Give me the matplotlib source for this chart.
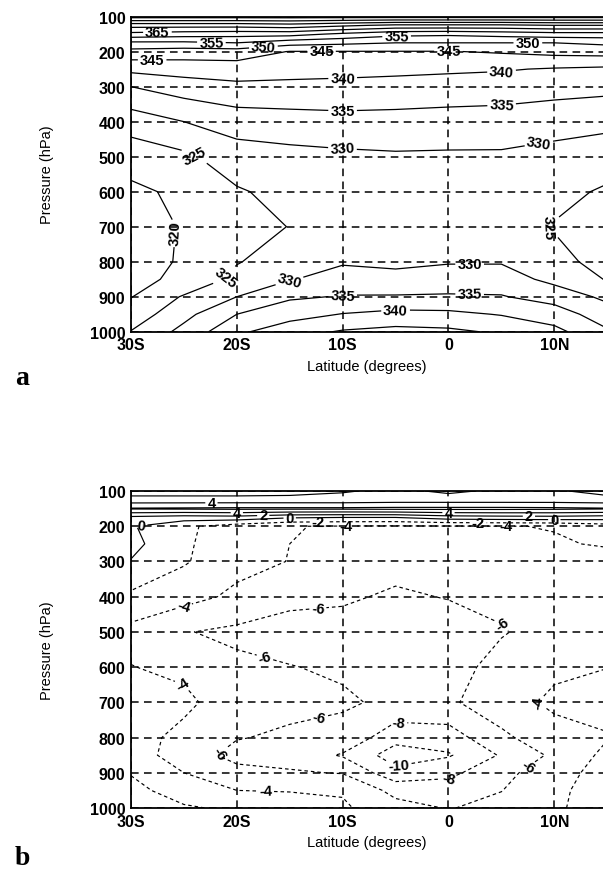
import numpy as np
import matplotlib
matplotlib.use("Agg")
import matplotlib.pyplot as plt

plt.rcParams['font.family'] = ['Liberation Sans', 'DejaVu Sans']

# grid of the analysis (latitude in degrees, negative = south; pressure in hPa)
lats = [-30, -25, -20, -15, -10, -5, 0, 5, 10, 15]
levels_hpa = [100, 125, 150, 175, 200, 250, 300, 400, 500, 600, 700, 800, 850, 900, 950, 1000]

xticks = [-30, -20, -10, 0, 10]
xticklabels = ['30S', '20S', '10S', '0', '10N']
yticks = [100, 200, 300, 400, 500, 600, 700, 800, 900, 1000]

# panel a: one column per latitude, top (100 hPa) to bottom (1000 hPa)
theta_a = {
    -30: [387, 372, 363.5, 354, 348.3, 341.3, 335.0, 327.3, 322.1, 319.0, 318.3, 318.5, 319.0, 319.8, 322.0, 325.2],
    -25: [387, 372, 362.5, 354, 347.5, 342.2, 337.5, 330.0, 324.0, 321.0, 320.3, 320.4, 320.8, 325.5, 328.5, 331.5],
    -20: [387, 372, 362.0, 355, 347.7, 342.5, 338.9, 332.3, 327.7, 324.5, 323.5, 324.7, 326.4, 330.0, 335.0, 339.0],
    -15: [387, 373, 362.0, 352, 344.8, 341.8, 338.8, 332.9, 328.5, 326.5, 325.1, 327.5, 329.7, 334.3, 338.0, 343.0],
    -10: [387, 371, 359.0, 351, 344.8, 341.5, 338.6, 333.4, 329.0, 328.3, 327.8, 329.5, 332.0, 335.3, 340.2, 345.5],
    -5:  [387, 369, 356.5, 350, 344.8, 341.2, 338.2, 333.3, 329.4, 328.5, 328.2, 329.0, 331.4, 335.4, 341.5, 346.5],
    0:   [387, 369, 356.0, 350, 344.8, 340.8, 337.8, 333.0, 329.3, 328.3, 327.8, 329.6, 332.5, 335.5, 341.2, 346.0],
    5:   [387, 369, 357.0, 350, 345.5, 340.4, 337.5, 332.8, 329.3, 328.0, 327.5, 329.6, 332.5, 335.3, 339.7, 344.3],
    10:  [387, 370, 358.0, 350, 346.5, 339.6, 336.8, 332.1, 328.3, 326.5, 324.7, 326.3, 328.5, 333.1, 337.3, 341.5],
    15:  [387, 370, 358.0, 351, 347.0, 339.0, 336.4, 331.2, 327.5, 324.3, 322.5, 323.5, 324.7, 328.8, 332.5, 335.6],
}
levels_a = list(range(320, 390, 5))

# panel b
diff_b = {
    -30: [1.0, 2.8, 6.2, 1.5, 0.2, 0.6, -0.1, -2.4, -4.6, -3.95, -3.4, -3.3, -3.0, -2.1, -1.5, -1.2],
    -25: [1.0, 2.8, 6.3, 1.0, -1.6, -1.7, -1.8, -3.3, -5.9, -4.4, -3.6, -4.5, -5.0, -4.0, -2.8, -1.8],
    -20: [1.0, 2.8, 6.4, 1.2, -3.0, -3.2, -3.4, -4.4, -6.4, -5.6, -5.0, -5.9, -6.6, -5.4, -4.0, -2.3],
    -15: [1.2, 2.8, 6.4, 0.2, -3.95, -4.0, -4.05, -5.6, -6.6, -5.95, -5.5, -6.3, -6.8, -5.8, -4.1, -3.0],
    -10: [1.8, 2.8, 6.4, 0.0, -4.1, -4.6, -5.0, -5.7, -6.8, -6.2, -5.8, -6.5, -8.2, -6.1, -4.2, -3.7],
    -5:  [2.5, 3.0, 6.5, 0.0, -4.2, -4.9, -5.3, -6.3, -7.0, -6.8, -6.3, -9.3, -11.0, -9.4, -6.6, -5.3],
    0:   [1.6, 3.0, 6.5, 1.0, -4.1, -5.0, -5.4, -5.9, -7.0, -6.8, -6.3, -9.0, -10.2, -8.5, -7.0, -6.1],
    5:   [2.4, 3.0, 6.5, 1.2, -4.05, -4.6, -5.0, -5.5, -6.15, -5.3, -4.9, -6.4, -7.8, -6.6, -6.05, -5.4],
    10:  [2.3, 3.0, 6.4, 1.3, -3.95, -4.1, -4.6, -5.0, -5.2, -4.4, -3.6, -4.8, -5.6, -4.8, -4.4, -4.3],
    15:  [1.2, 2.8, 6.2, 1.0, -3.0, -3.9, -4.4, -4.7, -4.5, -4.02, -3.5, -4.1, -3.5, -3.2, -3.1, -3.0],
}
levels_b = [-10, -8, -6, -4, -2, 0, 2, 4, 6]

# where the contour labels sit (lat, hPa)
label_pos_a = [(-27.5, 145), (-22.4, 172), (-4.9, 158), (-17.5, 182), (7.5, 176),
               (-28, 218), (-12, 197), (0, 198), (-10, 272), (5, 252),
               (-10, 365), (5, 346), (-10, 470), (8.5, 455), (-15, 857), (2, 810),
               (-10, 895), (2, 891), (-5, 937), (-24, 500), (-21, 845), (8.8, 702),
               (-25, 720)]
label_pos_b = [(-22.4, 135), (-20, 161), (0, 161), (-17.5, 171), (7.6, 171),
               (-29, 205), (-15, 180), (10, 180), (-12.3, 190), (2.8, 191),
               (-9.7, 200), (5.4, 200), (-24.9, 439), (-25, 642), (-17.3, 960), (7.8, 716),
               (-12.3, 448), (5, 480), (-17.5, 589), (-12.1, 760), (-22.2, 822), (7.8, 895),
               (-4.7, 758), (0.2, 930), (-4.7, 875)]


def field(cols):
    return np.array([cols[la] for la in lats]).T


def setup(ax):
    ax.set_xlim(-30, 14.6)
    ax.set_ylim(1000, 100)
    ax.set_xticks(xticks)
    ax.set_xticklabels(xticklabels)
    ax.set_yticks(yticks)
    ax.tick_params(length=0, pad=4, labelsize=11.5)
    for t in ax.get_xticklabels() + ax.get_yticklabels():
        t.set_fontweight('bold')
    ax.grid(True, color='black', lw=1.1, linestyle=(0, (5, 3.5)))
    ax.set_axisbelow(True)
    ax.spines['right'].set_visible(False)
    for s in ['left', 'bottom', 'top']:
        ax.spines[s].set_linewidth(1.3)
    ax.set_xlabel('Latitude (degrees)', fontsize=10.5, labelpad=5)
    ax.set_ylabel('Pressure (hPa)', fontsize=10.5, labelpad=26)


fig = plt.figure(figsize=(6.03, 8.78), dpi=100)
ax_a = fig.add_axes([0.2172, 0.621, 0.7828, 0.359])
ax_b = fig.add_axes([0.2172, 0.0786, 0.7828, 0.361])

X, Y = np.meshgrid(lats, levels_hpa)

cs_a = ax_a.contour(X, Y, field(theta_a), levels=levels_a, colors='black', linewidths=0.9)
lab = ax_a.clabel(cs_a, fmt='%d', fontsize=10.5, inline=True, inline_spacing=2, manual=label_pos_a)
for t in lab:
    t.set_fontweight('bold')
setup(ax_a)

styles_b = ['solid' if lv >= 0 else (0, (3, 2.5)) for lv in levels_b]
cs_b = ax_b.contour(X, Y, field(diff_b), levels=levels_b, colors='black', linewidths=0.85,
                    linestyles=styles_b)
lab = ax_b.clabel(cs_b, fmt='%d', fontsize=10.5, inline=True, inline_spacing=2, manual=label_pos_b)
for t in lab:
    t.set_fontweight('bold')
setup(ax_b)

fig.text(0.025, 0.562, 'a', fontsize=20, fontweight='bold', family='Liberation Serif')
fig.text(0.025, 0.015, 'b', fontsize=20, fontweight='bold', family='Liberation Serif')

fig.savefig('out.png', dpi=100)
